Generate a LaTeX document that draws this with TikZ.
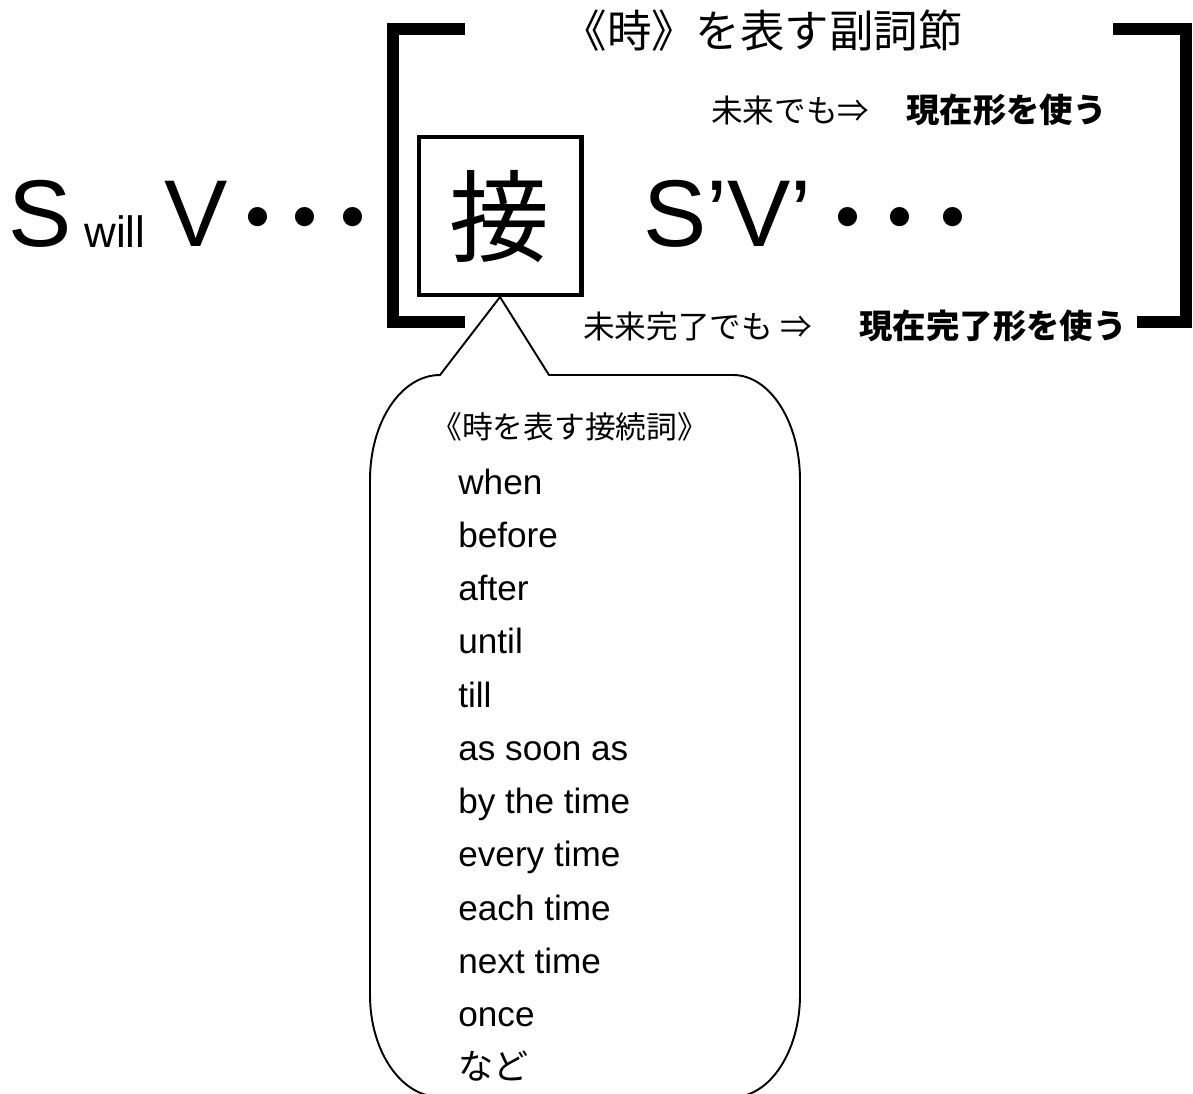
\documentclass[tikz,border=0pt]{standalone}
\usepackage{fontspec}
\setmainfont{Liberation Sans}
\newfontfamily\jp{Noto Sans CJK JP}
\usetikzlibrary{positioning}
% three big middle dots, packed closer than the font sets them
\newcommand{\bigdots}[1]{\raisebox{-0.28cm}{\jp\fontsize{65}{65}\selectfont ･\kern-#1･\kern-#1･}}

\begin{document}
\begin{tikzpicture}[x=0.02cm, y=-0.02cm,
    bracket/.style={line width=6.8pt, line join=miter},
    big/.style={font=\fontsize{54}{54}\selectfont, inner sep=0pt, anchor=base west},
    note/.style={font=\jp\fontsize{18}{18}\selectfont, inner sep=0pt},
    rule/.style={font=\jp\bfseries\fontsize{19}{19}\selectfont, inner sep=0pt, anchor=base east},
    word/.style={font=\fontsize{20}{20}\selectfont, inner sep=0pt, anchor=base west}]
  \useasboundingbox (0,0) rectangle (1193,1093);
  % Draw the two brackets
  \draw [bracket] (465,29) -- (393,29) -- (393,322) -- (465,322);
  \draw [bracket] (1113,29) -- (1186,29) -- (1186,322) -- (1137,322);
  % Main clause
  \node (s) [big] at (8,246) {S};
  \node (will) [word, font=\fontsize{25}{25}\selectfont] at (84,247) {will};
  \node (v) [big] at (164,246) {V};
  \node (dots) [big] at (229,246) {\bigdots{5.4pt}};
  % Conjunction box
  \node (conj) [draw, line width=2.3pt, minimum width=3.26cm, minimum height=3.16cm,
    inner sep=0pt, font=\jp\fontsize{57}{57}\selectfont] at (500,216) {接};
  \node (sub) [big] at (643,246) {S’V’\kern4pt\bigdots{2.5pt}};
  % Labels
  \node (title) [note, font=\jp\fontsize{25.3}{25.3}\selectfont, anchor=base east] at (963,47) {《時》を表す副詞節};
  \node (future) [note, anchor=base west] at (711,122) {未来でも⇒};
  \node (present) [rule] at (1107,122) {現在形を使う};
  \node (futperf) [note, anchor=base west] at (583,338) {未来完了でも ⇒};
  \node (presperf) [rule] at (1127,338) {現在完了形を使う};
  % Speech bubble
  \draw [line width=1.1pt] (conj.south) -- (549,375) -- (733,375)
    .. controls (770,375) and (800,422) .. (800,480) -- (800,995)
    .. controls (800,1051) and (770,1097) .. (733,1097) -- (440,1097)
    .. controls (401,1097) and (370,1051) .. (370,995) -- (370,480)
    .. controls (370,422) and (401,375) .. (440,375) -- cycle;
  \node (head) [note, font=\jp\fontsize{17.5}{17.5}\selectfont, anchor=base west] at (431,438) {《時を表す接続詞》};
  \foreach \w [count=\i from 0] in {when, before, after, until, till, as soon as,
      by the time, every time, each time, next time, once, {\jp など}}
    \node (item\i) [word] at (458,494+53.27*\i) {\w};
\end{tikzpicture}
\end{document}
